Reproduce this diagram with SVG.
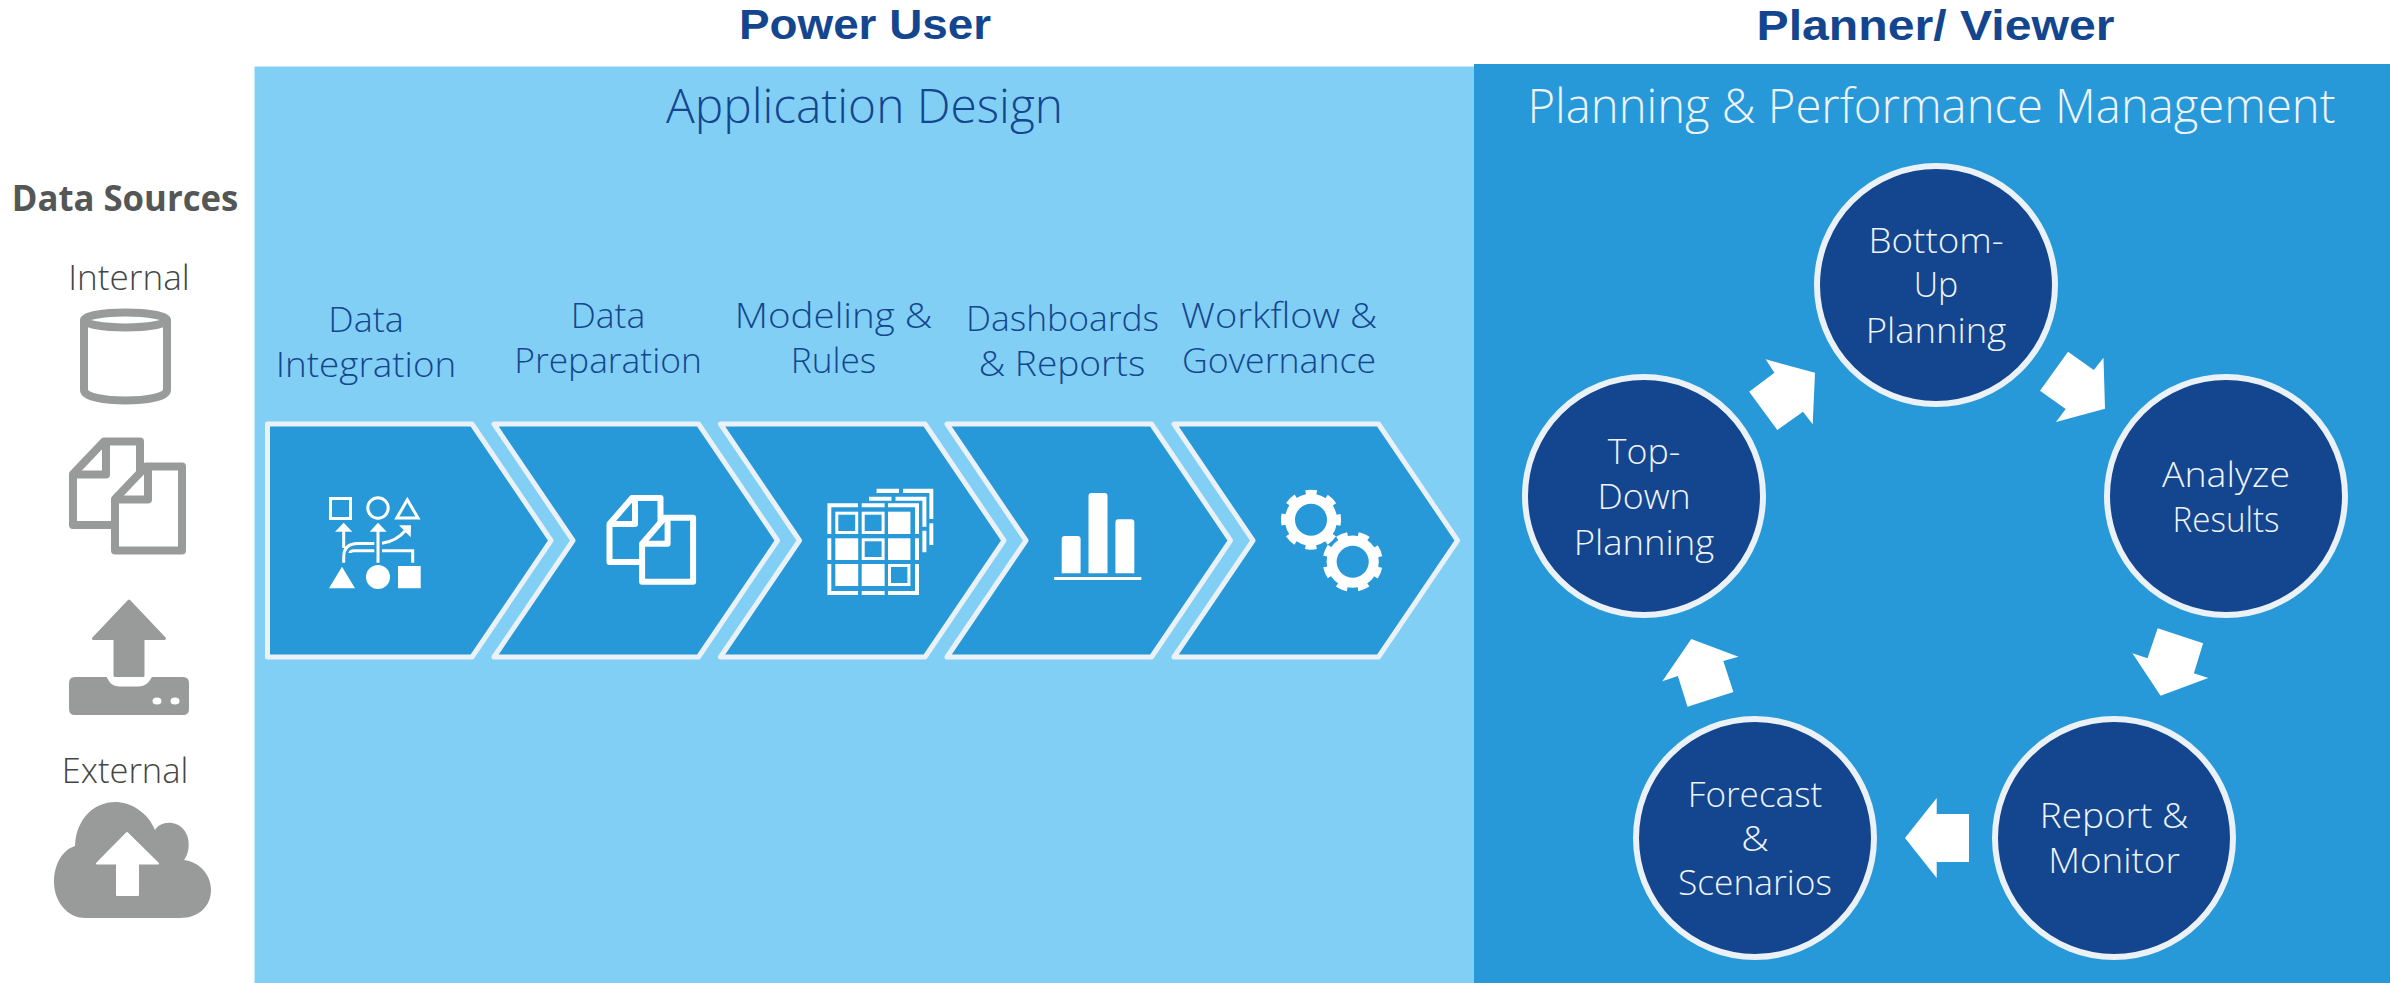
<svg xmlns="http://www.w3.org/2000/svg" width="2390" height="983" viewBox="0 0 2390 983">
<style>
text{font-family:"Open Sans","Noto Sans","Liberation Sans",sans-serif;text-anchor:middle}
text.h{font-family:"Liberation Sans","Open Sans",sans-serif;font-size:43px;font-weight:700;fill:#14468f}
.t1{font-size:47px;font-weight:350;fill:#14468f}
.t2{font-size:47px;font-weight:300;fill:#eef4fa}
.ds{font-size:35px;font-weight:700;fill:#555756}
.src{font-size:35px;font-weight:300;fill:#444645}
.cl{font-size:34.500px;font-weight:350;fill:#14468f}
.nt{font-size:35.500px;fill:#eef4fa;font-weight:300}
.chev{fill:#2899d8;stroke:#eaf1f7;stroke-width:5;stroke-linejoin:round}
.circ{fill:#14468f;stroke:#eaf1f7;stroke-width:6}
.arr{fill:#fff}
.g{fill:#999b9a}
.gl{fill:none;stroke:#999b9a;stroke-width:8;stroke-linejoin:round}
.w{fill:#fff}
.wl{fill:none;stroke:#fff;stroke-width:3}
.wd{fill:#2899d8;stroke:#fff;stroke-width:6;stroke-linejoin:round}
</style>
<defs>
<path id="chevshape" d="M0,0H204.500L283.500,116.500L204.500,233H0L79,116.500Z"/>
<g id="gear">
<circle r="21" fill="none" stroke="#fff" stroke-width="10"/>
<circle r="27.500" fill="none" stroke="#fff" stroke-width="5" stroke-dasharray="11 10.600" stroke-dashoffset="5.500"/>
</g>
</defs>
<rect width="2390" height="983" fill="#fff"/>
<rect id="panel-design" x="254.500" y="66.500" width="1219.500" height="916.500" fill="#82cff5"/>
<rect id="panel-planning" x="1474" y="64" width="916" height="919" fill="#2899d8"/>

<text class="h" x="865" y="39" textLength="252" lengthAdjust="spacingAndGlyphs">Power User</text>
<text class="h" x="1935.500" y="40" textLength="358" lengthAdjust="spacingAndGlyphs">Planner/ Viewer</text>
<text class="t1" x="864.500" y="123" textLength="397" lengthAdjust="spacingAndGlyphs">Application Design</text>
<text class="t2" x="1931.500" y="123" textLength="808" lengthAdjust="spacingAndGlyphs">Planning &amp; Performance Management</text>

<g id="data-sources">
<text class="ds" x="125" y="211" textLength="226.500" lengthAdjust="spacingAndGlyphs">Data Sources</text>
<text class="src" x="129" y="290" textLength="121.500" lengthAdjust="spacingAndGlyphs">Internal</text>
<g id="icon-database">
<ellipse class="gl" cx="125.500" cy="320" rx="41.500" ry="7.500"/>
<path class="gl" d="M84,320V390C84,404 167,404 167,390V320"/>
</g>
<g id="icon-files" fill="#fff">
<path d="M73,474L104,441.600H140V525H73Z" class="gl" style="fill:#fff"/>
<path d="M106,443V474.400H73" class="gl"/>
<path d="M115,499L146,466.600H182V550.500H115Z" class="gl" style="fill:#fff"/>
<path d="M148,468V499.400H115" class="gl"/>
</g>
<g id="icon-upload">
<path class="g" stroke="#999b9a" stroke-width="3" stroke-linejoin="round" d="M129,601L164.500,638.500H143V675.500H115V638.500H93.500Z"/>
<path class="g" d="M75,677H106.700C109,682 112,686.500 120,686.500H138C146,686.500 149,682 152,677H183Q189,677 189,683V709Q189,715 183,715H75Q69,715 69,709V683Q69,677 75,677Z"/>
<ellipse cx="157" cy="701" rx="4.500" ry="3.500" fill="#fff"/>
<ellipse cx="175" cy="701" rx="4.500" ry="3.500" fill="#fff"/>
</g>
<text class="src" x="125" y="783" textLength="126.500" lengthAdjust="spacingAndGlyphs">External</text>
<g id="icon-cloud">
<path class="g" d="M85,918H180C200,918 211,905 211,890C211,875 200,862 184,860C192,850 191,826 172,823C164,822 158,825 155,830C148,812 130,802 115,802C95,802 76,818 75,846C62,850 54,865 54,882C54,902 68,918 85,918Z"/>
<path fill="#fff" stroke="#fff" stroke-width="2" stroke-linejoin="round" d="M127,833L158,863.500H138V895H117V863.500H97Z"/>
</g>
</g>

<g id="step-integration">
<path class="chev" d="M267.500,424H472L551,540.500L472,657H267.500Z"/>
<text class="cl" x="366" y="332" textLength="75.500" lengthAdjust="spacingAndGlyphs">Data</text>
<text class="cl" x="366" y="377" textLength="180.500" lengthAdjust="spacingAndGlyphs">Integration</text>
<g id="icon-integration">
<rect class="wl" x="330.500" y="498.500" width="20" height="20"/>
<circle class="wl" cx="378" cy="508" r="10.200"/>
<path class="wl" d="M407.300,499.800L396.800,518H418Z"/>
<path class="w" d="M343.700,522.700L352.300,531.700H335ZM378,522.700L386.700,531.700H369.700ZM399,525.300H411L410.700,537.300Z"/>
<path class="wl" d="M343.700,548V531M378,562.700V531M382,543.300C392,542 400,537 406,530M343.700,562.700V557Q343.700,543.500 358,543.500H374.300M350,553Q350,550.700 354,550.700H374.300M382,550.700H412.700V562.700"/>
<path class="w" d="M342,566.700L355,588.300H329ZM398,566H420.700V588.300H398Z"/>
<circle class="w" cx="378" cy="577" r="12"/>
</g>
</g>
<g id="step-preparation">
<use href="#chevshape" class="chev" x="494" y="424"/>
<text class="cl" x="608" y="328" textLength="74.500" lengthAdjust="spacingAndGlyphs">Data</text>
<text class="cl" x="608" y="373" textLength="187.500" lengthAdjust="spacingAndGlyphs">Preparation</text>
<g id="icon-prep">
<path class="wd" d="M609.500,524L632,498H660.500V562H609.500Z"/>
<path class="wd" style="fill:none" d="M635,498V524H609.500"/>
<path class="wd" d="M642.100,543.700L664.600,517.700H693.100V581.700H642.100Z"/>
<path class="wd" style="fill:none" d="M667.600,517.700V543.700H642.100"/>
</g>
</g>
<g id="step-modeling">
<use href="#chevshape" class="chev" x="720.500" y="424"/>
<text class="cl" x="833.500" y="328" textLength="197.500" lengthAdjust="spacingAndGlyphs">Modeling &amp;</text>
<text class="cl" x="833.500" y="373" textLength="85.500" lengthAdjust="spacingAndGlyphs">Rules</text>
<g id="icon-grid" fill="#fff">
<path d="M827.400,503.300H858V507.300H831.300V534H827.400ZM861.700,503.300H884.600V507.300H861.700ZM888,503.300H919V534H915V507.300H888ZM827.400,538.300H831.300V560H827.400ZM915,538.300H919V560H915ZM827.400,564H831.300V591H858V595H827.400ZM861.700,591H884.600V595H861.700ZM915,564H919V595H888V591H915Z"/>
<path d="M869,496.700H891.500V500.700H869ZM895.500,496.700H926.400V526.700H922.400V500.700H895.500ZM922.400,530.700H926.400V552.300H922.400ZM876.600,488.700H899V493H876.600ZM903,488.700H933.300V519H929.400V493H903ZM929.400,523.300H933.300V545H929.400Z"/>
<rect x="888" y="511.700" width="22.400" height="22.300"/>
<rect x="835.300" y="538.300" width="22.900" height="21.700"/>
<rect x="888" y="538.300" width="22.400" height="21.700"/>
<rect x="835.300" y="564" width="22.900" height="22"/>
<rect x="861.700" y="564" width="22.900" height="22"/>
<g fill="none" stroke="#fff" stroke-width="3">
<rect x="836.800" y="513.200" width="19.900" height="19.300"/>
<rect x="863.200" y="513.200" width="19.900" height="19.300"/>
<rect x="863.200" y="539.800" width="19.900" height="18.700"/>
<rect x="889.500" y="565.500" width="19.400" height="19"/>
</g>
</g>
</g>
<g id="step-dashboards">
<use href="#chevshape" class="chev" x="947" y="424"/>
<text class="cl" x="1062.500" y="331" textLength="193" lengthAdjust="spacingAndGlyphs">Dashboards</text>
<text class="cl" x="1062" y="375.500" textLength="166.500" lengthAdjust="spacingAndGlyphs">&amp; Reports</text>
<g id="icon-bars" fill="#fff">
<path d="M1061.700,573.300V539Q1061.700,536 1064.700,536H1077.600Q1080.600,536 1080.600,539V573.300ZM1088.500,573.300V496Q1088.500,493 1091.500,493H1104.500Q1107.500,493 1107.500,496V573.300ZM1115.400,573.300V522.300Q1115.400,519.300 1118.400,519.300H1131.300Q1134.300,519.300 1134.300,522.300V573.300Z"/>
<rect x="1054.200" y="577" width="87.100" height="3"/>
</g>
</g>
<g id="step-workflow">
<use href="#chevshape" class="chev" x="1174" y="424"/>
<text class="cl" x="1279" y="328" textLength="196" lengthAdjust="spacingAndGlyphs">Workflow &amp;</text>
<text class="cl" x="1279" y="373" textLength="194" lengthAdjust="spacingAndGlyphs">Governance</text>
<g id="icon-gears">
<use href="#gear" transform="translate(1311,519.700)"/>
<use href="#gear" transform="translate(1352.700,561.700) rotate(22.500)"/>
</g>
</g>

<g id="connectors">
<polygon class="arr" points="1765.600,359.300 1815,372.700 1812.700,424.300 1803,411.700 1777.300,430 1749.200,391.700 1774.400,372.700"/>
<polygon class="arr" points="2068,351.700 2093.800,370 2103.500,357.700 2105,408.700 2056,422 2065.700,409 2040,390.700"/>
<polygon class="arr" points="2157.700,628.300 2203.100,643.300 2193.900,673.300 2208.200,678 2160.600,695.700 2132.400,653.300 2147.500,658.300"/>
<polygon class="arr" points="1905,838 1936.700,798 1936.700,814 1969,814 1969,862 1936.700,862 1936.700,878"/>
<polygon class="arr" points="1691.300,639 1738.500,656.700 1723.300,661 1733.400,692 1687.500,706.700 1677.900,676 1662.300,681.300"/>
</g>

<g id="node-bottom-up">
<circle class="circ" cx="1936" cy="285" r="119"/>
<text class="nt" x="1936" y="253" textLength="135" lengthAdjust="spacingAndGlyphs">Bottom-</text><text class="nt" x="1936" y="297" textLength="44.500" lengthAdjust="spacingAndGlyphs">Up</text><text class="nt" x="1936" y="343" textLength="140.500" lengthAdjust="spacingAndGlyphs">Planning</text>
</g>
<g id="node-analyze">
<circle class="circ" cx="2226" cy="496" r="119"/>
<text class="nt" x="2226" y="487" textLength="128" lengthAdjust="spacingAndGlyphs">Analyze</text><text class="nt" x="2226" y="532" textLength="107" lengthAdjust="spacingAndGlyphs">Results</text>
</g>
<g id="node-report">
<circle class="circ" cx="2114" cy="838" r="119"/>
<text class="nt" x="2114" y="828" textLength="148.500" lengthAdjust="spacingAndGlyphs">Report &amp;</text><text class="nt" x="2114" y="873" textLength="131.500" lengthAdjust="spacingAndGlyphs">Monitor</text>
</g>
<g id="node-forecast">
<circle class="circ" cx="1755" cy="838" r="119"/>
<text class="nt" x="1755" y="807" textLength="134.500" lengthAdjust="spacingAndGlyphs">Forecast</text><text class="nt" x="1755" y="851" textLength="27.500" lengthAdjust="spacingAndGlyphs">&amp;</text><text class="nt" x="1755" y="895" textLength="154" lengthAdjust="spacingAndGlyphs">Scenarios</text>
</g>
<g id="node-top-down">
<circle class="circ" cx="1644" cy="496" r="119"/>
<text class="nt" x="1644" y="464" textLength="72.500" lengthAdjust="spacingAndGlyphs">Top-</text><text class="nt" x="1644" y="509" textLength="93" lengthAdjust="spacingAndGlyphs">Down</text><text class="nt" x="1644" y="555" textLength="140.500" lengthAdjust="spacingAndGlyphs">Planning</text>
</g>
</svg>
